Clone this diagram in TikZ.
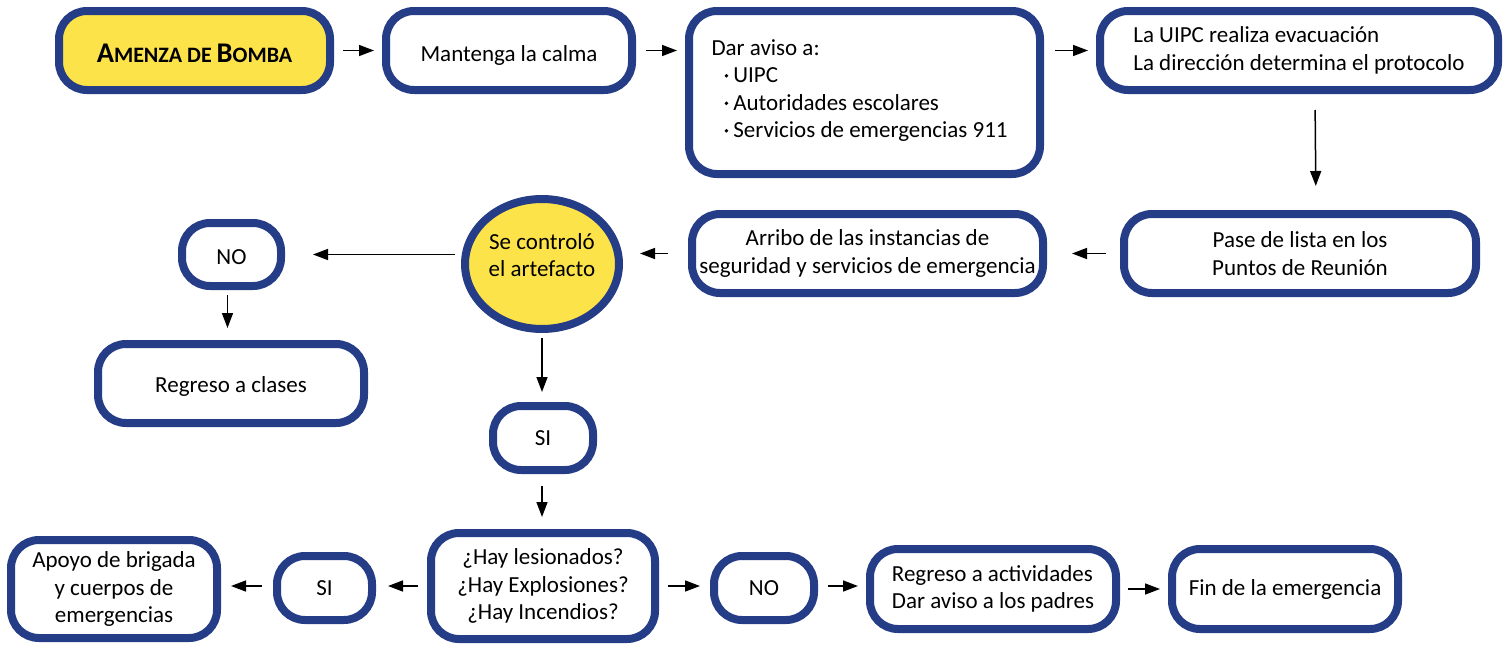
\documentclass[tikz,border=0pt]{standalone}
\usepackage{fontspec}
\setmainfont{Carlito}
\usetikzlibrary{arrows.meta,shapes.geometric}
\definecolor{navy}{RGB}{37,60,134}
\definecolor{gold}{RGB}{253,227,74}
\newcommand{\bigc}[1]{{\fontsize{28.5}{27.5}\selectfont #1}}
\newcommand{\smc}[1]{{\fontsize{22}{27.5}\selectfont #1}}
\newcommand{\dn}[2]{\raisebox{-#1}[\height][\depth]{#2}}
\newcommand{\dotb}{\hspace*{13pt}\raisebox{5pt}{\tikz\fill[black] (0,0) circle (1.9pt);}\hspace{5pt}}
\begin{document}
\begin{tikzpicture}[x=1pt,y=-1pt,
  every node/.style={font=\fontsize{23}{27.5}\selectfont, text=black},
  box/.style={draw=navy, line width=8pt, rounded corners=28pt, fill=white, align=center, inner sep=0pt},
  arr/.style={draw=black, line width=1.5pt, -{Triangle[length=15pt,width=11pt]}}
]
\useasboundingbox (0,0) rectangle (1504,645);

\node[box, fill=gold, minimum width=271pt, minimum height=79pt] (amenza) at (194.5,50.5)
  {\dn{3pt}{\bfseries\bigc{A}\smc{MENZA DE }\bigc{B}\smc{OMBA}}};
\node[box, minimum width=246pt, minimum height=79pt] (calma) at (509,50.5) {\dn{5pt}{Mantenga la calma}};
\node[box, minimum width=351pt, minimum height=163pt] (aviso) at (864.5,92.5)
  {\raisebox{2pt}[\height][\depth]{\begin{minipage}{306pt}\raggedright
  Dar aviso a:\\ \dotb UIPC\\ \dotb Autoridades escolares\\ \dotb Servicios de emergencias 911\end{minipage}}};
\node[box, minimum width=398pt, minimum height=79pt, align=left] (uipc) at (1299,50.5)
  {La UIPC realiza evacuación\\ La dirección determina el protocolo};
\node[box, minimum width=352pt, minimum height=79pt] (pase) at (1300,253.5)
  {Pase de lista en los\\ Puntos de Reunión};
\node[box, minimum width=351pt, minimum height=79pt] (arribo) at (867.5,253.5)
  {Arribo de las instancias de\\ seguridad y servicios de emergencia};
\node[draw=navy, line width=8pt, fill=gold, ellipse, minimum width=154pt, minimum height=130pt, inner sep=0pt,
  label={[align=center, yshift=9pt]center:Se controló\\ el artefacto}] (circ) at (542,264) {};
\node[box, minimum width=99pt, minimum height=63pt] (no1) at (231.5,254.5) {\dn{3pt}{NO}};
\node[box, minimum width=266pt, minimum height=79pt] (clases) at (231,383.5) {\dn{3pt}{Regreso a clases}};
\node[box, minimum width=100pt, minimum height=64pt] (si1) at (543,438) {SI};
\node[box, minimum width=224pt, minimum height=106pt] (hay) at (543,586)
  {¿Hay lesionados?\\ ¿Hay Explosiones?\\ ¿Hay Incendios?};
\node[box, minimum width=95pt, minimum height=64pt] (si2) at (324.5,588) {SI};
\node[box, minimum width=206pt, minimum height=98pt] (apoyo) at (114,589)
  {Apoyo de brigada\\ y cuerpos de\\ emergencias};
\node[box, minimum width=100pt, minimum height=64pt] (no2) at (764,588) {NO};
\node[box, minimum width=246pt, minimum height=80pt, align=left] (regact) at (993,589)
  {Regreso a actividades\\ Dar aviso a los padres};
\node[box, minimum width=226pt, minimum height=80pt] (fin) at (1285,589) {Fin de la emergencia};

\draw[arr, shorten <=9pt, shorten >=8pt] (amenza.east) -- (calma.west);
\draw[arr, shorten <=10pt, shorten >=8pt] (calma.east) -- (calma.east -| aviso.west);
\draw[arr, shorten <=11pt, shorten >=8pt] (aviso.east |- uipc.west) -- (uipc.west);
\draw[arr, shorten <=16pt, shorten >=24pt] ([xshift=16pt]uipc.south) -- ([xshift=16pt]pase.north);
\draw[arr, shorten <=14pt, shorten >=25pt] (pase.west) -- (arribo.east);
\draw[arr, shorten <=20pt, shorten >=17pt] (arribo.west) -- (arribo.west -| circ.east);
\draw[arr, shorten <=6pt, shorten >=28pt] (circ.west |- no1.east) -- (no1.east);
\draw[arr, shorten <=5pt, shorten >=12pt] ([xshift=-4pt]no1.south) -- ([xshift=-4pt]no1.south |- clases.north);
\draw[arr, shorten <=5pt, shorten >=10pt] (circ.south) -- (circ.south |- si1.north);
\draw[arr, shorten <=12pt, shorten >=12pt] ([xshift=-1pt]si1.south) -- ([xshift=-1pt]si1.south |- hay.north);
\draw[arr, shorten <=9pt, shorten >=12pt] ([yshift=2pt]hay.west |- si2.east) -- ([yshift=2pt]si2.east);
\draw[arr, shorten <=11pt, shorten >=10pt] ([yshift=2pt]si2.west) -- ([yshift=2pt]si2.west -| apoyo.east);
\draw[arr, shorten <=9pt, shorten >=10pt] ([yshift=2pt]hay.east |- no2.west) -- ([yshift=2pt]no2.west);
\draw[arr, shorten <=10pt, shorten >=8pt] ([yshift=2pt]no2.east) -- ([yshift=2pt]no2.east -| regact.west);
\draw[arr, shorten <=8pt, shorten >=8pt] (regact.east) -- (fin.west);
\end{tikzpicture}
\end{document}
